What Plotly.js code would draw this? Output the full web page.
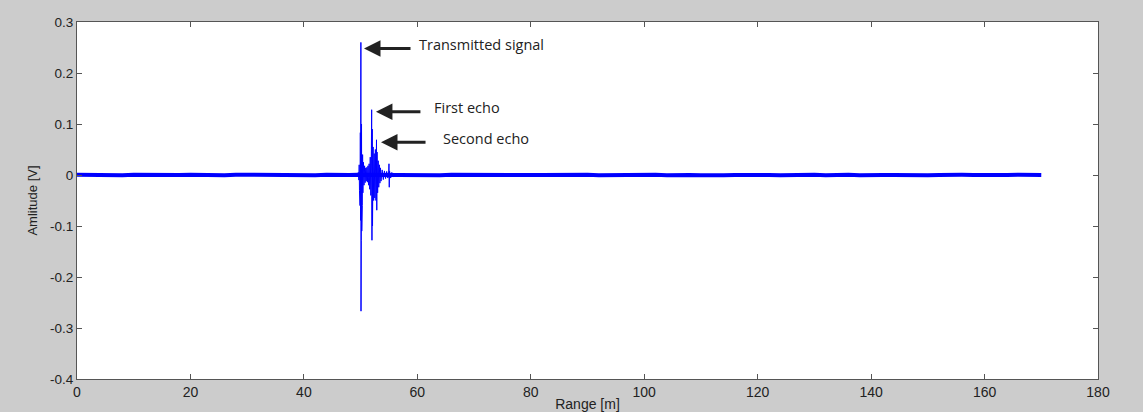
<!DOCTYPE html>
<html>
<head>
<meta charset="utf-8">
<script src="https://cdn.plot.ly/plotly-3.0.1.min.js"></script>
<style>
  html, body { margin: 0; padding: 0; background: #cccccc; }
  #chart { width: 1143px; height: 412px; }
</style>
</head>
<body>
<div id="chart"></div>
<script>
// Noise floor samples (range in m, amplitude in V)
const baseRange = [0,2,4,6,8,10,12,14,16,18,20,22,24,26,28,30,32,34,36,38,40,42,44,46,48,49.5,
  56.2,58,60,62,64,66,68,70,72,74,76,78,80,82,84,86,88,90,92,94,96,98,100,102,104,106,108,110,
  112,114,116,118,120,122,124,126,128,130,132,134,136,138,140,142,144,146,148,150,152,154,156,158,
  160,162,164,166,168,170];
const baseAmp = [
  0.0004,-0.0003,0.0006,0.0001,-0.0005,0.0003,-0.0002,0.0005,-0.0006,0.0002,0.0004,-0.0004,
  0.0001,-0.0006,0.0005,0.0003,-0.0002,-0.0005,0.0006,-0.0001,0.0003,-0.0004,0.0005,-0.0003,
  0.0002,0.0006,-0.0005,0.0001,-0.0003,0.0004,-0.0006,0.0003,0.0005,-0.0002,0.0001,-0.0005,
  0.0006,-0.0004,0.0002,-0.0001,0.0005,-0.0006,0.0003,0.0004,-0.0003,0.0001,-0.0005,0.0006,
  -0.0002,0.0003,-0.0004,0.0005,0.0001,-0.0006,0.0004,-0.0003,0.0002,0.0006,-0.0005,0.0001,
  -0.0003,0.0005,-0.0001,0.0004,-0.0006,0.0002,0.0003,-0.0005,0.0006,-0.0002,0.0001,-0.0004,
  0.0005,-0.0003,0.0002,-0.0006,0.0004,0.0001,-0.0005,0.0003,-0.0002,0.0006,-0.0004,0.0002];

// Transmitted pulse and echoes
const pulseRange = [49.5,49.6,49.7,49.75,49.8,49.85,49.9,49.95,50.0,50.05,50.07,50.1,50.12,50.16,50.2,50.25,
  50.3,50.35,50.4,50.5,50.6,50.7,50.8,50.9,51.0,51.1,51.2,51.3,51.4,51.5,51.6,51.7,51.8,51.9,51.95,52.0,
  52.05,52.1,52.2,52.3,52.4,52.5,52.6,52.7,52.8,52.85,52.9,53.0,53.1,53.2,53.3,53.4,53.5,53.6,53.8,54.0,
  54.2,54.4,54.6,54.8,54.95,55.0,55.05,55.1,55.3,55.5,55.8,56.0,56.2];
const pulseAmp = [0.002,0.005,-0.01,0.02,-0.03,0.05,-0.06,0.083,-0.089,0.26,-0.267,0.144,-0.128,0.1,-0.11,0.07,
  -0.06,0.04,-0.035,0.025,-0.02,0.018,-0.015,0.014,-0.012,0.015,-0.014,0.018,-0.02,0.022,-0.028,0.035,-0.04,0.05,0.128,-0.128,
  0.09,-0.1,0.055,-0.05,0.042,-0.045,0.05,-0.05,0.069,-0.069,0.045,-0.035,0.028,-0.024,0.02,-0.016,0.014,-0.012,0.01,-0.009,
  0.008,-0.007,0.007,-0.006,0.006,0.022,-0.024,0.008,-0.006,0.005,-0.004,0.003,-0.002];

const yTickVals = [-0.4,-0.3,-0.2,-0.1,0,0.1,0.2,0.3];
const yTickText = ['-0.4','-0.3','-0.2','-0.1','0','0.1','0.2','0.3'];
const xTickVals = [0,20,40,60,80,100,120,140,160,180];
const xTickText = ['0','20','40','60','80','100','120','140','160','180'];

const blue = '#0000ff';
const traces = [
  {x: baseRange, y: baseAmp, type: 'scatter', mode: 'lines',
   line: {color: blue, width: 4}, hoverinfo: 'skip', showlegend: false},
  {x: pulseRange, y: pulseAmp, type: 'scatter', mode: 'lines',
   line: {color: blue, width: 1}, hoverinfo: 'skip', showlegend: false}
];

const txt = '#222222';
const sans = 'Liberation Sans, Arial, sans-serif';
const axisCommon = {
  showgrid: false, zeroline: false, showline: true, linecolor: '#555555', linewidth: 1,
  mirror: 'ticks', ticks: 'inside', ticklen: 5, tickcolor: '#555555', tickwidth: 1,
  tickmode: 'array', automargin: false
};

const annFont = {family: 'Open Sans, sans-serif', size: 14.5, color: txt};
const arrow = {text: '', showarrow: true, arrowhead: 2, arrowsize: 1.1, arrowwidth: 3,
  arrowcolor: '#222222', ay: 0};
const layout = {
  width: 1143, height: 412,
  paper_bgcolor: '#cccccc', plot_bgcolor: '#ffffff',
  margin: {l: 77, r: 45, t: 22, b: 33},
  xaxis: Object.assign({}, axisCommon, {
    range: [0, 180], tickvals: xTickVals, ticktext: xTickText,
    tickfont: {family: sans, size: 14, color: txt},
    title: {text: 'Range [m]', standoff: 1, font: {family: sans, size: 14, color: txt}}
  }),
  yaxis: Object.assign({}, axisCommon, {
    range: [-0.4, 0.3], tickvals: yTickVals, ticktext: yTickText,
    tickfont: {family: sans, size: 13.5, color: txt},
    title: {text: 'Amlitude [V]', standoff: 9, font: {family: sans, size: 13, color: txt}}
  }),
  annotations: [
    Object.assign({x: 50.6, y: 0.248, ax: 48}, arrow),
    Object.assign({x: 52.7, y: 0.124, ax: 46}, arrow),
    Object.assign({x: 53.6, y: 0.064, ax: 46}, arrow),
    {x: 60.0, y: 0.255, xanchor: 'left', yanchor: 'middle', text: 'Transmitted signal', showarrow: false, font: annFont},
    {x: 62.6, y: 0.133, xanchor: 'left', yanchor: 'middle', text: 'First echo', showarrow: false, font: annFont},
    {x: 64.2, y: 0.071, xanchor: 'left', yanchor: 'middle', text: 'Second echo', showarrow: false, font: annFont}
  ]
};

Plotly.newPlot('chart', traces, layout, {staticPlot: true, displayModeBar: false});
</script>
</body>
</html>
